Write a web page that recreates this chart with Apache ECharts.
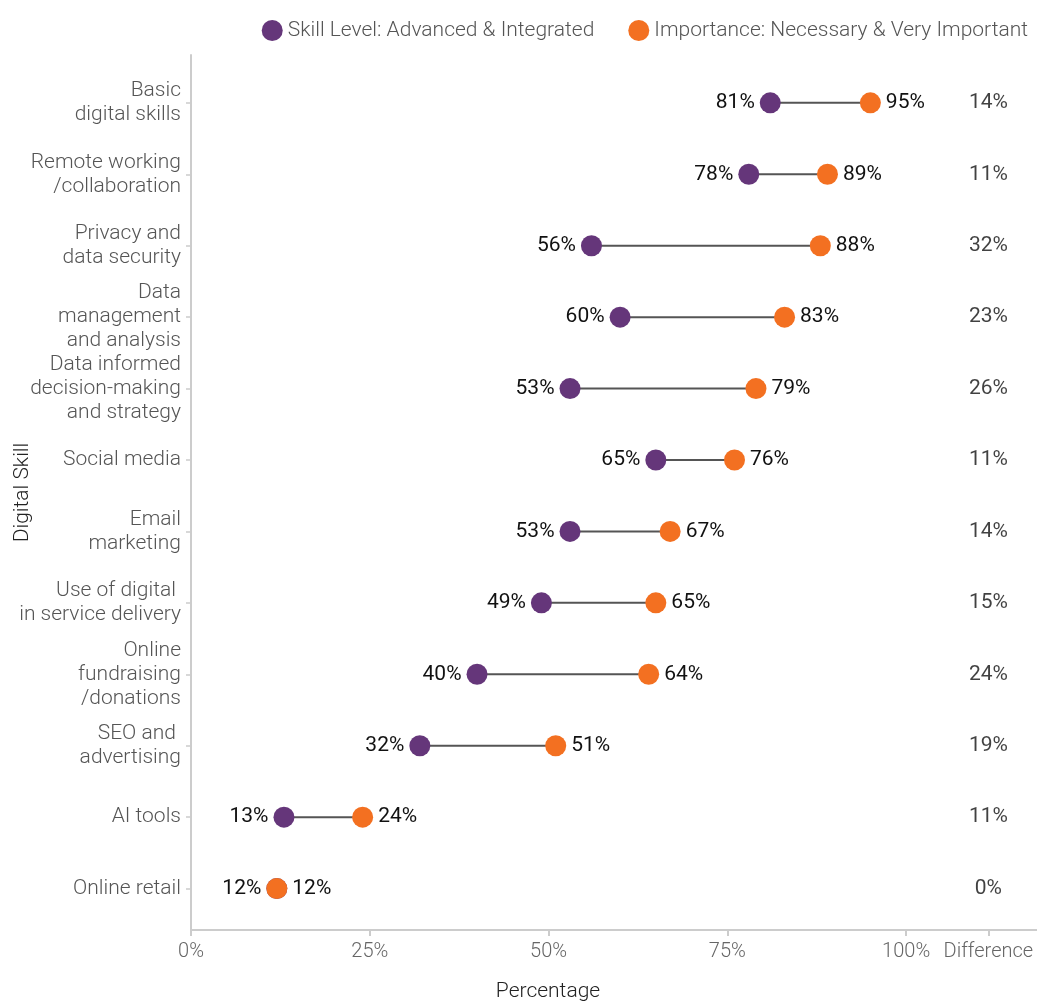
<!DOCTYPE html>
<html>
<head>
<meta charset="utf-8">
<script src="https://cdn.jsdelivr.net/npm/echarts@6/dist/echarts.min.js"></script>
<style>
  html, body { margin: 0; padding: 0; background: #fff; }
  #chart { width: 1037px; height: 1003px; }
</style>
</head>
<body>
<div id="chart"></div>
<script>
// Digital skills: current skill level vs. perceived importance
const skills = [
  'Basic\ndigital skills',
  'Remote working\n/collaboration',
  'Privacy and\ndata security',
  'Data\nmanagement\nand analysis',
  'Data informed\ndecision-making\nand strategy',
  'Social media',
  'Email\nmarketing',
  'Use of digital \nin service delivery',
  'Online\nfundraising\n/donations',
  'SEO and \nadvertising',
  'AI tools',
  'Online retail'
];
const skillLevel = [81, 78, 56, 60, 53, 65, 53, 49, 40, 32, 13, 12];
const importance = [95, 89, 88, 83, 79, 76, 67, 65, 64, 51, 24, 12];
const difference = [14, 11, 32, 23, 26, 11, 14, 15, 24, 19, 11, 0];
const percentTicks = [0, 25, 50, 75, 100];
const DIFF_COL = 111.5;   // x position of the "Difference" column

const SKILL_NAME = 'Skill Level: Advanced & Integrated';
const IMP_NAME = 'Importance: Necessary & Very Important';
const PURPLE = '#65367a';
const ORANGE = '#f37021';
const FONT = 'Roboto, "Liberation Sans", sans-serif';

const rowIdx = skills.map((_, i) => i);

const chart = echarts.init(document.getElementById('chart'), null, { renderer: 'canvas' });

chart.setOption({
  animation: false,
  backgroundColor: '#fff',
  textStyle: { fontFamily: FONT },
  legend: {
    data: [SKILL_NAME, IMP_NAME],
    right: 4,
    top: 15,
    icon: 'circle',
    itemWidth: 21,
    itemHeight: 21,
    itemGap: 34,
    textStyle: { fontSize: 21, color: '#555', fontWeight: 300, fontFamily: FONT }
  },
  grid: {
    left: 191, right: 0, top: 55, bottom: 73,
    containLabel: false,
    outerBoundsMode: 'none'
  },
  xAxis: {
    type: 'value',
    min: 0,
    max: 118.3,
    splitLine: { show: false },
    axisLine: { show: true, onZero: false, lineStyle: { color: '#cccccc', width: 2 } },
    axisTick: {
      show: true,
      customValues: percentTicks.concat([DIFF_COL]),
      length: 6,
      lineStyle: { color: '#cccccc', width: 2 }
    },
    axisLabel: {
      customValues: percentTicks.concat([DIFF_COL]),
      formatter: v => (v === DIFF_COL ? 'Difference' : v + '%'),
      fontSize: 20,
      color: '#666',
      fontWeight: 300,
      margin: 12,
      fontFamily: FONT
    }
  },
  yAxis: {
    type: 'value',
    inverse: true,
    min: -0.67,
    max: 11.58,
    name: 'Digital Skill',
    nameLocation: 'middle',
    nameGap: 158,
    nameMoveOverlap: false,
    nameTextStyle: { fontSize: 21, color: '#222', fontWeight: 300, fontFamily: FONT },
    splitLine: { show: false },
    axisLine: { show: true, onZero: false, lineStyle: { color: '#cccccc', width: 2 } },
    axisTick: {
      show: true,
      customValues: rowIdx,
      length: 5,
      lineStyle: { color: '#cccccc', width: 1.5 }
    },
    axisLabel: {
      customValues: rowIdx,
      formatter: v => skills[v],
      fontSize: 21,
      lineHeight: 24,
      color: '#555',
      fontWeight: 300,
      margin: 10,
      align: 'right',
      fontFamily: FONT
    }
  },
  graphic: [{
    type: 'text',
    x: 548,
    y: 992,
    style: {
      text: 'Percentage',
      fontSize: 21,
      fontWeight: 300,
      fill: '#222',
      fontFamily: FONT,
      textAlign: 'center',
      textVerticalAlign: 'middle'
    }
  }],
  series: [
    {
      // connector between the two values of each skill
      type: 'custom',
      silent: true,
      data: rowIdx.map(i => [skillLevel[i], importance[i], i]),
      encode: { x: [0, 1], y: 2 },
      renderItem: (params, api) => {
        const a = api.coord([api.value(0), api.value(2)]);
        const b = api.coord([api.value(1), api.value(2)]);
        return {
          type: 'line',
          shape: { x1: a[0], y1: a[1], x2: b[0], y2: b[1] },
          style: { stroke: '#555', lineWidth: 2 }
        };
      },
      z: 1
    },
    {
      name: SKILL_NAME,
      type: 'scatter',
      data: rowIdx.map(i => [skillLevel[i], i]),
      symbol: 'circle',
      symbolSize: 21,
      itemStyle: { color: PURPLE, opacity: 1 },
      label: {
        show: true,
        position: 'left',
        distance: 5,
        formatter: p => p.value[0] + '%',
        fontSize: 21,
        color: '#111',
        fontFamily: FONT
      },
      z: 2
    },
    {
      name: IMP_NAME,
      type: 'scatter',
      data: rowIdx.map(i => [importance[i], i]),
      symbol: 'circle',
      symbolSize: 21,
      itemStyle: { color: ORANGE, opacity: 1 },
      label: {
        show: true,
        position: 'right',
        distance: 5,
        formatter: p => p.value[0] + '%',
        fontSize: 21,
        color: '#111',
        fontFamily: FONT
      },
      z: 3
    },
    {
      // "Difference" column
      type: 'scatter',
      silent: true,
      data: rowIdx.map(i => [DIFF_COL, i, difference[i]]),
      symbolSize: 1,
      itemStyle: { color: 'rgba(0,0,0,0)' },
      label: {
        show: true,
        position: 'inside',
        formatter: p => p.value[2] + '%',
        fontSize: 21,
        color: '#111',
        fontFamily: FONT
      },
      z: 3
    }
  ]
});
</script>
</body>
</html>
